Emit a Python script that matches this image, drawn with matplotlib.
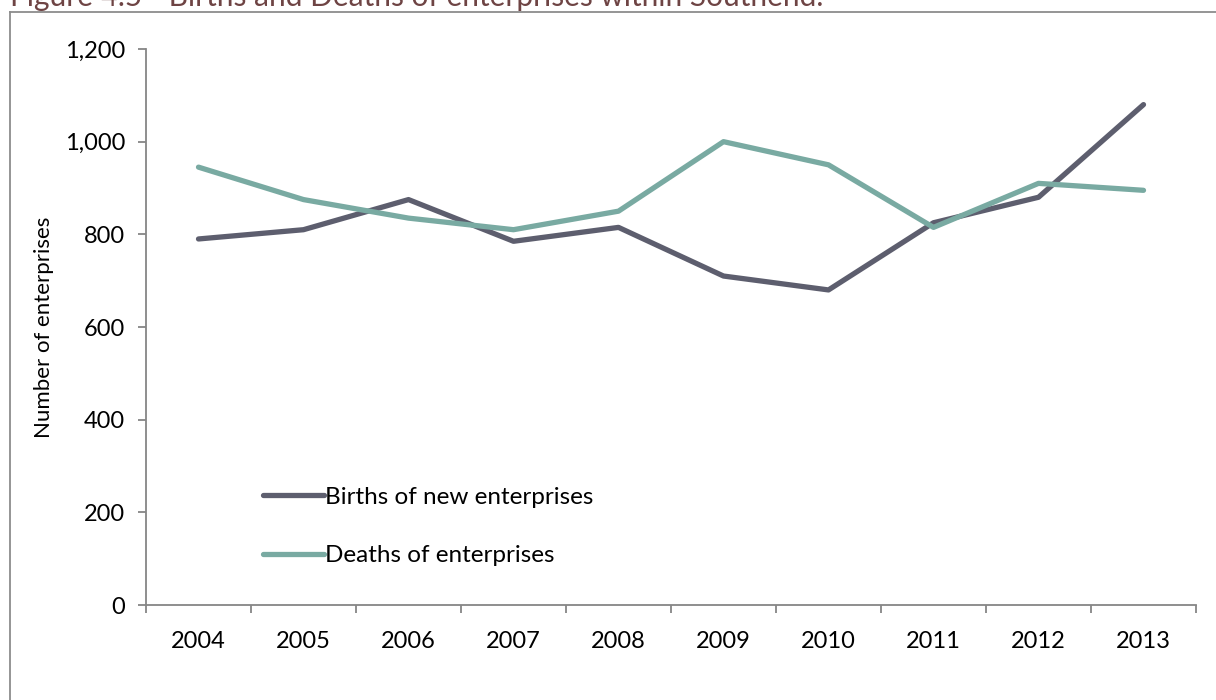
import matplotlib
matplotlib.use("Agg")
import matplotlib.pyplot as plt
from matplotlib.lines import Line2D
from matplotlib.ticker import FuncFormatter, MultipleLocator, FixedLocator

years = ["2004", "2005", "2006", "2007", "2008", "2009", "2010", "2011", "2012", "2013"]
births = [790, 810, 875, 785, 815, 710, 680, 825, 880, 1080]
deaths = [945, 875, 835, 810, 850, 1000, 950, 815, 910, 895]

title = "Figure 4.5 - Births and Deaths of enterprises within Southend."
ylabel = "Number of enterprises"
births_label = "Births of new enterprises"
deaths_label = "Deaths of enterprises"

births_color = "#5d5e6e"
deaths_color = "#79aaa2"
axis_color = "#868686"

plt.rcParams["font.family"] = ["Lato", "DejaVu Sans"]

fig = plt.figure(figsize=(12.16, 7.0), dpi=100)
ax = fig.add_axes([146 / 1216, 95 / 700, 1050 / 1216, 556 / 700])

x = list(range(len(years)))
ax.plot(x, births, color=births_color, lw=3.8, solid_capstyle="round",
        solid_joinstyle="round", label=births_label)
ax.plot(x, deaths, color=deaths_color, lw=3.8, solid_capstyle="round",
        solid_joinstyle="round", label=deaths_label)

ax.set_xlim(-0.5, len(years) - 0.5)
ax.set_ylim(0, 1200)
ax.yaxis.set_major_locator(MultipleLocator(200))
ax.yaxis.set_major_formatter(FuncFormatter(lambda v, p: f"{int(v):,}"))

ax.set_xticks(x)
ax.set_xticklabels(years)
ax.xaxis.set_minor_locator(FixedLocator([i - 0.5 for i in range(len(years) + 1)]))
ax.tick_params(axis="x", which="major", length=0, pad=19, labelsize=17, colors="black")
ax.tick_params(axis="x", which="minor", length=6, width=1.3, color=axis_color, direction="out")
ax.tick_params(axis="y", which="major", length=6, width=1.3, color=axis_color,
               direction="out", pad=9, labelsize=17, labelcolor="black")

for side in ("top", "right"):
    ax.spines[side].set_visible(False)
for side in ("left", "bottom"):
    ax.spines[side].set_color(axis_color)
    ax.spines[side].set_linewidth(1.3)

ax.set_ylabel(ylabel, fontsize=16, labelpad=8)

leg = ax.legend(loc="upper left", bbox_to_anchor=(0.1, 0.235), frameon=False,
                fontsize=17.5, handlelength=2.5, handletextpad=0.05,
                labelspacing=1.55, borderpad=0)

# outer frame around the figure panel
fig.add_artist(Line2D([10 / 1216, 10 / 1216], [0, 1 - 12 / 700],
                      transform=fig.transFigure, color="#8c8c8c", lw=1.3))
fig.add_artist(Line2D([10 / 1216, 1], [1 - 12 / 700, 1 - 12 / 700],
                      transform=fig.transFigure, color="#8c8c8c", lw=1.3))

fig.text(10 / 1216, 1 - 6 / 700, title, ha="left", va="baseline",
         fontsize=21.5, color="#6e4444")

fig.savefig("out.png", dpi=100)
